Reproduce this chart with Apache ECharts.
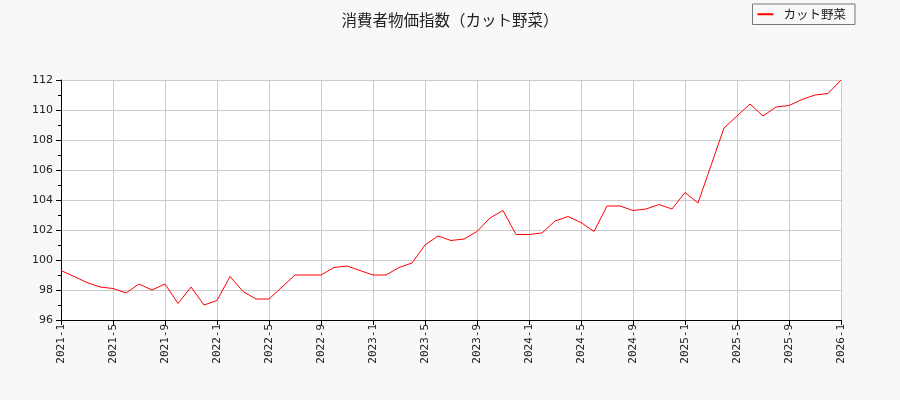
<!DOCTYPE html>
<html><head><meta charset="utf-8">
<script src="https://cdn.jsdelivr.net/npm/echarts@6/dist/echarts.min.js"></script>
<style>html,body{margin:0;padding:0;background:#f8f8f8}#c{width:900px;height:400px}</style>
</head><body><div id="c"></div>
<script>
const months = [];
for (let y = 2021; y <= 2026; y++) for (let m = 1; m <= 12; m++) { if (y === 2026 && m > 1) break; months.push(y + '-' + m); }
const titleText = '消費者物価指数（カット野菜）';
const seriesName = 'カット野菜';
const values = [
  99.3, 98.9, 98.5, 98.2, 98.1, 97.8, 98.4, 98.0, 98.4, 97.1, 98.2, 97.0,
  97.3, 98.9, 97.9, 97.4, 97.4, 98.2, 99.0, 99.0, 99.0, 99.5, 99.6, 99.3,
  99.0, 99.0, 99.5, 99.8, 101.0, 101.6, 101.3, 101.4, 101.9, 102.8, 103.3, 101.7,
  101.7, 101.8, 102.6, 102.9, 102.5, 101.9, 103.6, 103.6, 103.3, 103.4, 103.7, 103.4,
  104.5, 103.8, 106.3, 108.8, 109.6, 110.4, 109.6, 110.2, 110.3, 110.7, 111.0, 111.1,
  112.0
];
const chart = echarts.init(document.getElementById('c'));
chart.setOption({
  backgroundColor: '#f8f8f8',
  animation: false,
  title: { text: titleText, left: 'center', top: 7,
    textStyle: { fontFamily: 'Noto Sans CJK JP', fontSize: 15.5, fontWeight: 'normal', color: '#222' } },
  legend: { right: 45, top: 4, itemWidth: 16, itemHeight: 2, itemGap: 10,
    borderColor: '#777', borderWidth: 1, borderRadius: 0, padding: [4, 9, 4, 5],
    icon: 'rect',
    textStyle: { fontFamily: 'Noto Sans CJK JP', fontSize: 12.5, color: '#222', padding: [0, 0, 0, 5] },
    data: [{ name: seriesName }] },
  grid: { left: 61, right: 59, top: 80, bottom: 80, show: true, backgroundColor: '#fff', borderWidth: 0 },
  xAxis: { type: 'category', data: months, boundaryGap: false,
    axisLine: { lineStyle: { color: '#000', width: 1 } },
    axisTick: { interval: 3, length: 5, lineStyle: { color: '#000' } },
    axisLabel: { interval: 3, rotate: 90, fontFamily: 'DejaVu Sans Mono', fontSize: 11, color: '#222', margin: 4 },
    splitLine: { show: true, interval: 3, lineStyle: { color: '#ccc', width: 1 } } },
  yAxis: { type: 'value', min: 96, max: 112, interval: 2,
    axisLine: { show: true, lineStyle: { color: '#000', width: 1 } },
    axisTick: { show: true, length: 5, lineStyle: { color: '#000' } },
    minorTick: { show: true, splitNumber: 2, length: 3, lineStyle: { color: '#000' } },
    axisLabel: { fontFamily: 'DejaVu Sans', fontSize: 11, color: '#222', margin: 8 },
    splitLine: { show: true, lineStyle: { color: '#ccc', width: 1 } } },
  series: [{ name: seriesName, type: 'line', data: values, showSymbol: false, symbol: 'none',
    lineStyle: { color: '#ff0000', width: 1 }, itemStyle: { color: '#ff0000' } }]
});
</script></body></html>
